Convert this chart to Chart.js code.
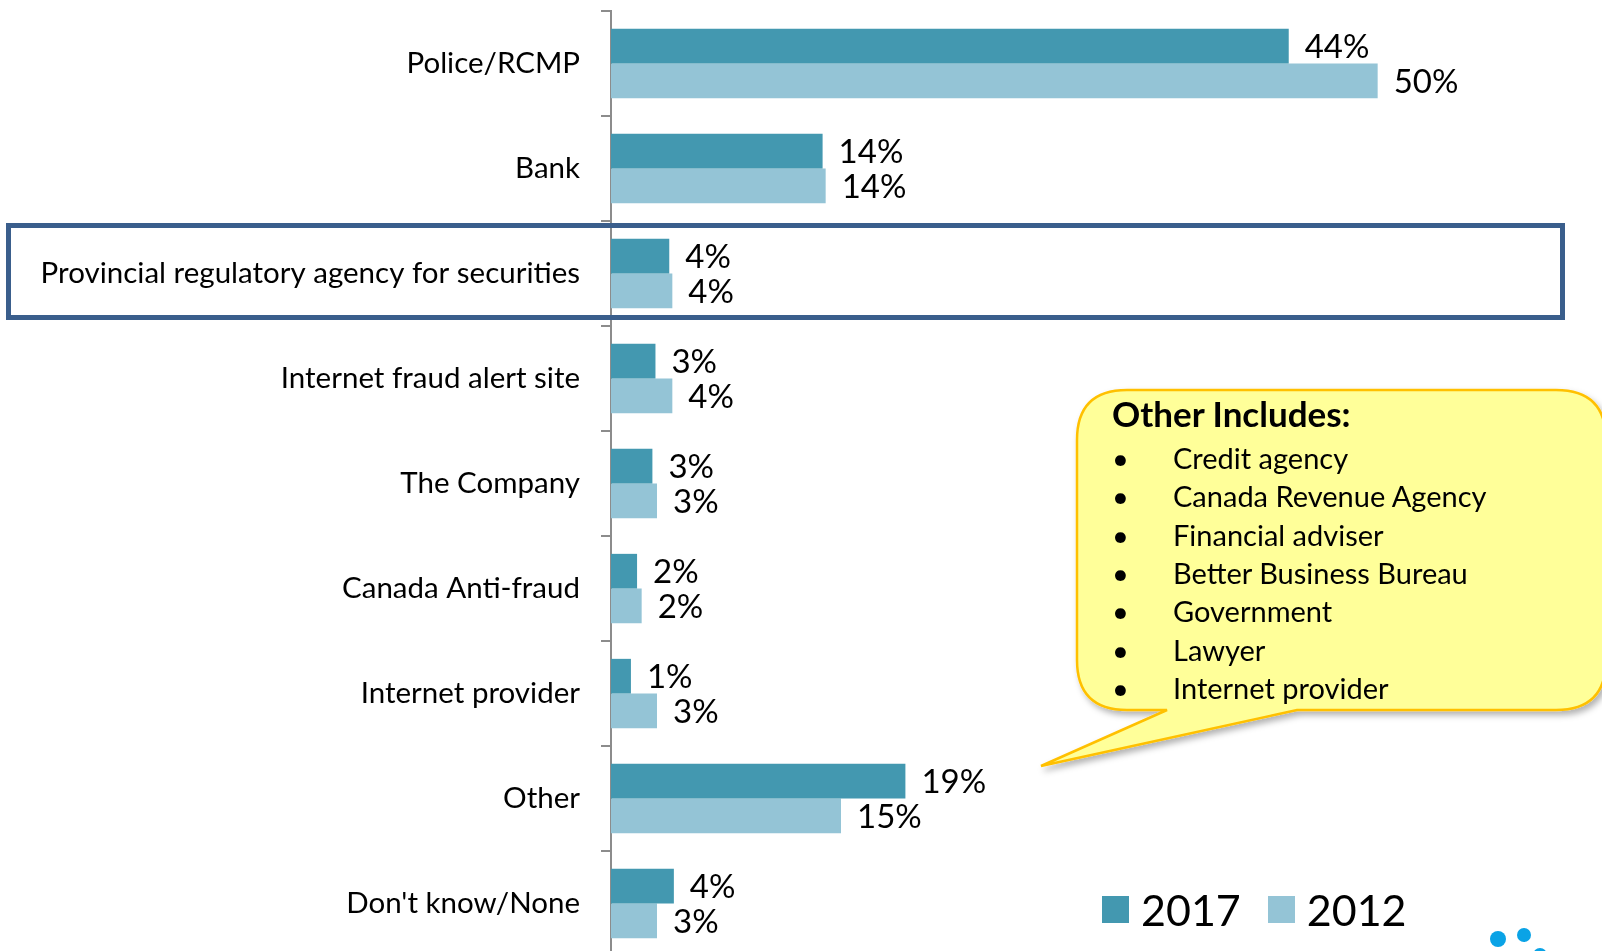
<!DOCTYPE html>
<html>
<head>
<meta charset="utf-8">
<script src="https://cdn.jsdelivr.net/npm/chart.js@4.4.1/dist/chart.umd.min.js"></script>
<style>
  html, body { margin: 0; padding: 0; background: #fff; overflow: hidden; }
  body { width: 1602px; height: 951px; position: relative; font-family: Lato, "Open Sans", sans-serif; }
  #wrap { position: absolute; left: 0; top: 0; width: 1602px; height: 960px; }
  #callout { position: absolute; left: 0; top: 0; width: 1602px; height: 951px; pointer-events: none; }
  .note { position: absolute; color: #000; white-space: nowrap; }
  .legend { position: absolute; top: 884px; left: 1102px; display: flex; align-items: center; font-size: 43px; }
  .legend span.box { display: inline-block; width: 27px; height: 27px; margin-right: 12px; }
  .legend span.item { display: flex; align-items: center; margin-right: 27px; }
  .dot { position: absolute; border-radius: 50%; background: #0aa3e6; }
</style>
</head>
<body>
<div id="wrap"><canvas id="grafico" width="1602" height="960"></canvas></div>

<svg id="callout" viewBox="0 0 1602 951">
  <defs>
    <filter id="sombra" x="-10%" y="-10%" width="130%" height="140%">
      <feDropShadow dx="3" dy="4" stdDeviation="3" flood-color="#000" flood-opacity="0.3"/>
    </filter>
  </defs>
  <path d="M 1127 390 H 1556 Q 1606 390 1606 440 V 660 Q 1606 710 1556 710 H 1297 L 1041 766 L 1167 710 H 1127 Q 1077 710 1077 660 V 440 Q 1077 390 1127 390 Z"
        fill="#ffff99" stroke="#ffc000" stroke-width="2.5" filter="url(#sombra)"/>
</svg>
<div id="notas"></div>
<div class="legend" id="legenda"></div>
<div class="dot" style="left:1490px;top:931px;width:16px;height:16px;"></div>
<div class="dot" style="left:1517px;top:928px;width:14px;height:14px;"></div>
<div class="dot" style="left:1533px;top:948px;width:14px;height:14px;"></div>

<script>
// Categorias e valores (%)
const categorias = [
    "Police/RCMP",
    "Bank",
    "Provincial regulatory agency for securities",
    "Internet fraud alert site",
    "The Company",
    "Canada Anti-fraud",
    "Internet provider",
    "Other",
    "Don't know/None",
];
const valores2017 = [44.2, 13.8, 3.8, 2.9, 2.7, 1.7, 1.3, 19.2, 4.1];
const valores2012 = [50, 14, 4, 4, 3, 2, 3, 15, 3];
const series = ["2017", "2012"];
const cores = ["#4398b0", "#94c4d6"];
const outrosTitulo = "Other Includes:";
const outros = [
    "Credit agency",
    "Canada Revenue Agency",
    "Financial adviser",
    "Better Business Bureau",
    "Government",
    "Lawyer",
    "Internet provider",
];
const destaque = 2; // categoria com o retângulo azul

// Rótulos de valor no fim de cada barra
const rotulos = {
    id: "rotulos",
    afterDatasetsDraw(chart) {
        const ctx = chart.ctx;
        ctx.save();
        ctx.font = "33px Lato";
        ctx.fillStyle = "#000";
        ctx.textAlign = "left";
        ctx.textBaseline = "middle";
        chart.data.datasets.forEach((ds, i) => {
            chart.getDatasetMeta(i).data.forEach((bar, j) => {
                ctx.fillText(Math.round(ds.data[j]) + "%", bar.x + 16, bar.y + 1.5);
            });
        });
        ctx.restore();
    },
};

// Retângulo de destaque em volta de uma categoria
const moldura = {
    id: "moldura",
    afterDraw(chart) {
        const ctx = chart.ctx;
        const y = chart.scales.y.getPixelForValue(destaque);
        ctx.save();
        ctx.strokeStyle = "#3a5e8c";
        ctx.lineWidth = 5;
        ctx.strokeRect(8.5, y - 48, 1554, 92);
        ctx.restore();
    },
};

const ctx = document.getElementById("grafico").getContext("2d");

new Chart(ctx, {
    type: "bar",
    data: {
        labels: categorias,
        datasets: [
            { label: series[0], data: valores2017, backgroundColor: cores[0] },
            { label: series[1], data: valores2012, backgroundColor: cores[1] },
        ],
    },
    plugins: [rotulos, moldura],
    options: {
        indexAxis: "y",
        responsive: false,
        animation: false,
        categoryPercentage: 0.66,
        barPercentage: 1,
        layout: { padding: { top: 11, right: 71, bottom: 4, left: 0 } },
        plugins: {
            legend: { display: false },
            tooltip: { enabled: false },
        },
        scales: {
            x: {
                display: false,
                min: 0,
                max: 60,
            },
            y: {
                afterFit: (s) => {
                    s.width = 611;
                    s.paddingTop = 0;
                    s.paddingBottom = 0;
                },
                border: { display: true, color: "#8c8c8c", width: 2 },
                grid: {
                    offset: true,
                    drawOnChartArea: false,
                    drawTicks: true,
                    tickLength: 10,
                    color: "#8c8c8c",
                    lineWidth: 2,
                },
                ticks: {
                    color: "#000",
                    padding: 21,
                    font: { family: "Lato", size: 29.5 },
                },
            },
        },
    },
});

// Caixa "Other Includes"
const notas = document.getElementById("notas");
const titulo = document.createElement("div");
titulo.className = "note";
titulo.style.cssText = "left:1112px;top:392px;font-size:35px;font-weight:bold;";
titulo.textContent = outrosTitulo;
notas.appendChild(titulo);
outros.forEach((t, i) => {
    const top = 440 + i * 38.3;
    const b = document.createElement("div");
    b.className = "note";
    b.style.cssText = `left:1112px;top:${top}px;font-size:29px;`;
    b.textContent = "\u2022";
    notas.appendChild(b);
    const d = document.createElement("div");
    d.className = "note";
    d.style.cssText = `left:1173px;top:${top}px;font-size:29px;`;
    d.textContent = t;
    notas.appendChild(d);
});

// Legenda
const legenda = document.getElementById("legenda");
series.forEach((s, i) => {
    const item = document.createElement("span");
    item.className = "item";
    item.innerHTML = `<span class="box" style="background:${cores[i]}"></span>${s}`;
    legenda.appendChild(item);
});
</script>
</body>
</html>
